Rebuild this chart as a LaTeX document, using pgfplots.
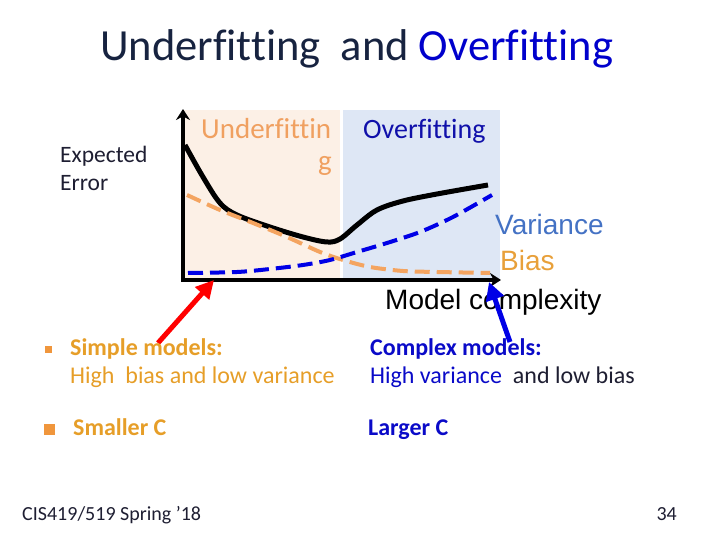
\documentclass[border=0pt]{standalone}
\usepackage{pgfplots}
\pgfplotsset{compat=1.18}
\usetikzlibrary{arrows.meta}
\usepackage{fontspec}
\setmainfont{Carlito}[Ligatures={NoCommon,NoRequired,NoContextual}]
\newfontfamily\arial{Liberation Sans}
\definecolor{titlenavy}{RGB}{23,35,64}
\definecolor{titleblue}{RGB}{0,0,204}
\definecolor{bgor}{RGB}{252,240,230}
\definecolor{bgbl}{RGB}{222,231,245}
\definecolor{biasor}{RGB}{244,164,96}
\definecolor{varbl}{RGB}{0,0,230}
\definecolor{undertxt}{RGB}{240,160,96}
\definecolor{overtxt}{RGB}{16,16,170}
\definecolor{vartxt}{RGB}{68,114,196}
\definecolor{biastxt}{RGB}{232,160,58}
\definecolor{simpletxt}{RGB}{230,158,40}
\definecolor{bulletor}{RGB}{240,150,60}
\definecolor{complextxt}{RGB}{10,10,200}
\definecolor{darktxt}{RGB}{30,30,50}
\begin{document}
\begin{tikzpicture}[x=1bp,y=1bp]
\useasboundingbox (0,0) rectangle (720,540);
% shaded regions
\fill[bgor] (183,260) rectangle (340,430);
\fill[bgbl] (343,260) rectangle (500,430);
% title
\node[anchor=base west, inner sep=0pt, font=\fontsize{44.5bp}{50bp}\selectfont] at (100,479)
  {\textcolor{titlenavy}{Underfitting\ \ and} \textcolor{titleblue}{Overfitting}};
% y label
\node[anchor=base west, inner sep=0pt, text=darktxt, font=\fontsize{23.5bp}{29bp}\selectfont] at (60,377) {Expected};
\node[anchor=base west, inner sep=0pt, text=darktxt, font=\fontsize{23.5bp}{29bp}\selectfont] at (60,349) {Error};
\begin{axis}[at={(183,260)}, anchor=south west, x=1bp, y=1bp,
  xmin=183, xmax=501, ymin=260, ymax=431,
  axis lines=left, ticks=none, clip=false,
  axis line style={line width=3.5bp, line cap=rect, -{Stealth[length=11bp,width=14bp]}}]
\addplot[black, line width=5bp, smooth, tension=0.55] coordinates {
 (185,395) (203,363) (220,337) (237,325) (270,313) (303,303) (327,298) (340,301)
 (357,315) (377,330) (403,339) (437,346) (488,355)};
\addplot[biasor, line width=4bp, dash pattern=on 15bp off 7bp, smooth, tension=0.5] coordinates {
 (187,345) (220,330) (253,317) (287,303) (320,288) (343,280) (370,273) (403,269) (437,268) (490,267)};
\addplot[varbl, line width=4bp, dash pattern=on 15bp off 7bp, smooth, tension=0.5] coordinates {
 (188,267) (237,268) (270,271) (303,275) (330,280) (357,288) (387,297) (420,308) (453,323) (492,345)};
\end{axis}
% region labels
\node[anchor=base west, inner sep=0pt, text=undertxt, font=\fontsize{29bp}{30bp}\selectfont] at (201,401) {Underfittin};
\node[anchor=base west, inner sep=0pt, text=undertxt, font=\fontsize{29bp}{30bp}\selectfont] at (318,369) {g};
\node[anchor=base west, inner sep=0pt, text=overtxt, font=\fontsize{28bp}{30bp}\selectfont] at (363,401) {Overfitting};
% curve labels
\node[anchor=base west, inner sep=0pt, text=vartxt, font=\arial\fontsize{28bp}{32bp}\selectfont] at (495,305) {Variance};
\node[anchor=base west, inner sep=0pt, text=biastxt, font=\arial\fontsize{28bp}{32bp}\selectfont] at (500,269) {Bias};
\node[anchor=base west, inner sep=0pt, text=black, font=\arial\fontsize{28bp}{32bp}\selectfont] at (385,230) {Model complexity};
% arrows
\draw[red, line width=5bp, -{Triangle[length=18bp,width=18bp]}] (158,197) -- (214,260);
\draw[varbl, line width=5bp, -{Triangle[length=18bp,width=18bp]}] (510,198) -- (489,258);
% bottom text
\fill[bulletor] (45,187) rectangle (52,194);
\node[anchor=base west, inner sep=0pt, text=simpletxt, font=\bfseries\fontsize{24bp}{28bp}\selectfont] at (70,184) {Simple models:};
\node[anchor=base west, inner sep=0pt, text=simpletxt, font=\fontsize{24bp}{28bp}\selectfont] at (70,156) {High\ \ bias and low variance};
\node[anchor=base west, inner sep=0pt, text=complextxt, font=\bfseries\fontsize{24bp}{28bp}\selectfont] at (370,184) {Complex models:};
\node[anchor=base west, inner sep=0pt, font=\fontsize{24bp}{28bp}\selectfont] at (370,156) {\textcolor{complextxt}{High variance}\ \ \textcolor{darktxt}{and low bias}};
\fill[bulletor] (44,105) rectangle (55,116);
\node[anchor=base west, inner sep=0pt, text=simpletxt, font=\bfseries\fontsize{24bp}{28bp}\selectfont] at (73,104) {Smaller C};
\node[anchor=base west, inner sep=0pt, text=complextxt, font=\bfseries\fontsize{24bp}{28bp}\selectfont] at (368,104) {Larger C};
% footer
\node[anchor=base west, inner sep=0pt, text=darktxt, font=\fontsize{20bp}{24bp}\selectfont] at (22,19) {CIS419/519 Spring ’18};
\node[anchor=base east, inner sep=0pt, text=darktxt, font=\fontsize{20bp}{24bp}\selectfont] at (677,19) {34};
\end{tikzpicture}
\end{document}
